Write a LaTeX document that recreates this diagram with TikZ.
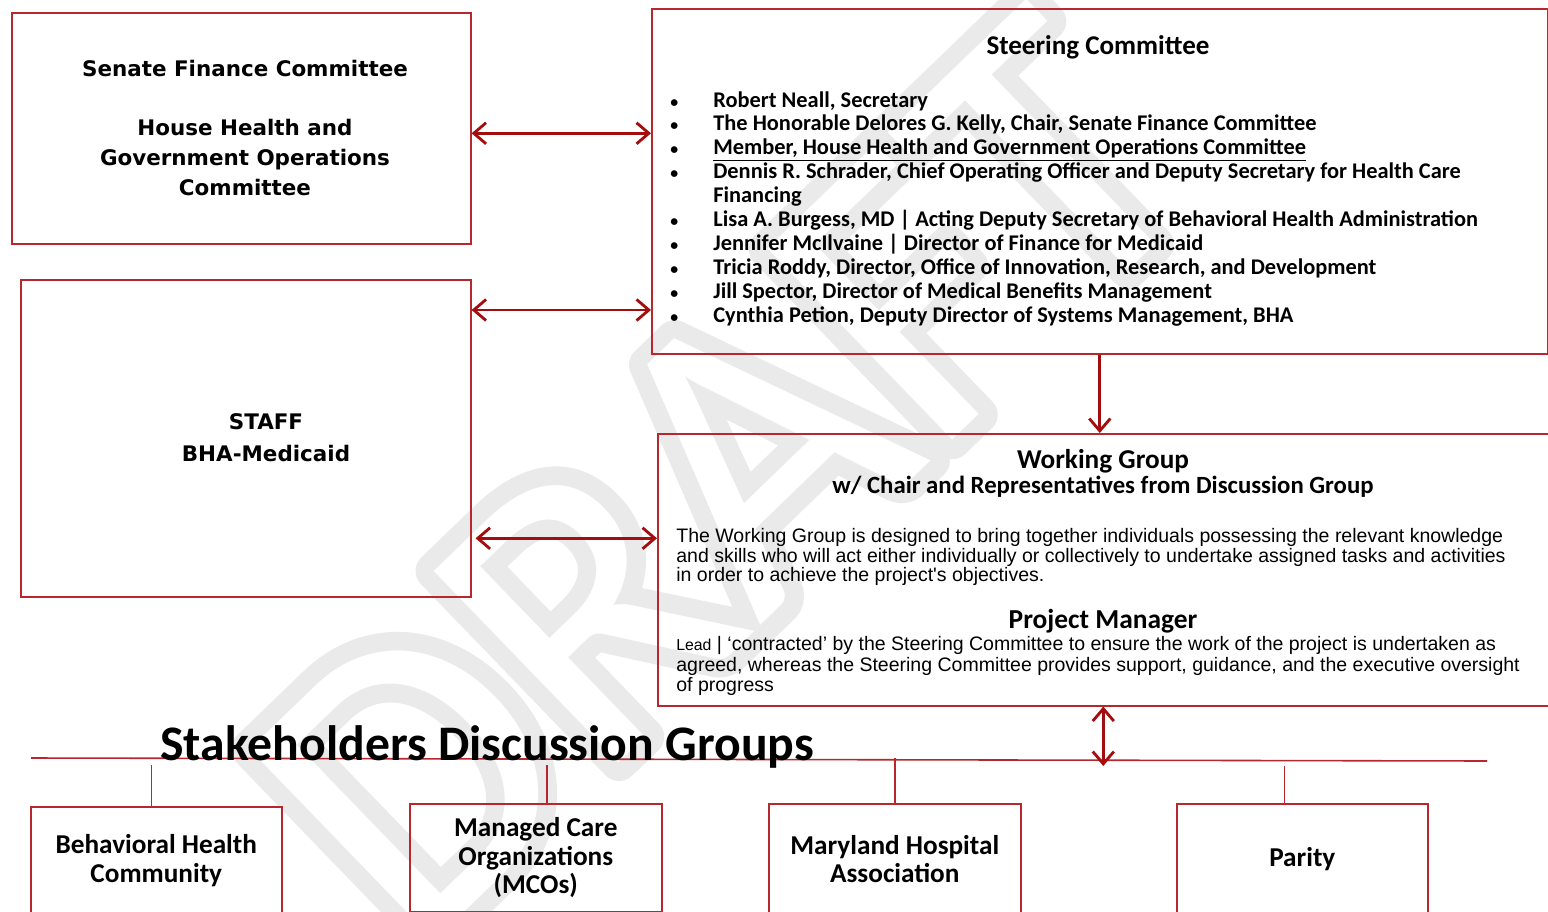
\documentclass[tikz,border=0pt]{standalone}
\usepackage{fontspec}
\setmainfont{Carlito}
\newfontfamily\widefont{DejaVu Sans}
\newfontfamily\arialfont{Liberation Sans}
\newfontfamily\draftfont[FakeBold=9]{Carlito}
\usetikzlibrary{arrows.meta,calc,positioning}
\definecolor{boxred}{HTML}{B7282E}
\definecolor{arrowred}{HTML}{A30D0D}
\definecolor{wmgray}{HTML}{EAEAEA}
\newlength{\pxu}
\setlength{\pxu}{0.02cm}
\newcommand{\blt}{{\fontsize{9}{9}\selectfont\textbullet}}

\begin{document}
\begin{tikzpicture}[x=0.02cm, y=-0.02cm,
  box/.style={draw=boxred, line width=0.9pt, inner sep=0pt, anchor=north west},
  link/.style={draw=boxred, line width=0.9pt},
  biarrow/.style={draw=arrowred, line width=1.6pt, {Straight Barb[length=7pt,width=12pt]}-{Straight Barb[length=7pt,width=12pt]}},
  onearrow/.style={draw=arrowred, line width=1.6pt, -{Straight Barb[length=7pt,width=12pt]}},
  head/.style={align=center, font=\widefont\bfseries\fontsize{12.2}{17}\selectfont},
  sub/.style={align=center, font=\bfseries\fontsize{15.5}{16.2}\selectfont},
  body/.style={anchor=north west, inner sep=0pt, align=left}]
\useasboundingbox (0,0) rectangle (1548,912);

% watermark
\begin{scope}[line join=round]
\node[text=wmgray, rotate=44, font=\draftfont\fontsize{236}{236}\selectfont] (draft) at (722,478) {DRAFT};
\node[text=white, rotate=44, font=\fontsize{236}{236}\selectfont] (draftin) at (722,478) {DRAFT};
\end{scope}

% left column
\node[box, minimum width=459*\pxu, minimum height=231*\pxu] (sfc) at (11,12) {};
\node[head] (sfctext) at (245,128)
  {Senate Finance Committee\\[17pt]House Health and\\Government Operations\\Committee};
\node[box, minimum width=450*\pxu, minimum height=317*\pxu] (staff) at (20,279) {};
\node[head] (stafftext) at (266,438) {STAFF\\[1pt]BHA-Medicaid};

% steering committee
\node[box, minimum width=896*\pxu, minimum height=345*\pxu] (steer) at (651,8) {};
\node[font=\bfseries\fontsize{15.4}{18}\selectfont] (steertitle) at (1098,47) {Steering Committee};
\node[body, font=\bfseries\fontsize{12.75}{13.6}\selectfont] (steerlist) at (670,90) {%
  \begin{tabular}{@{}p{43\pxu}@{}l@{}}
  \blt & Robert Neall, Secretary\\
  \blt & The Honorable Delores G. Kelly, Chair, Senate Finance Committee\\
  \blt & \underline{Member, House Health and Government Operations Committee}\\
  \blt & Dennis R. Schrader, Chief Operating Officer and Deputy Secretary for Health Care\\
       & Financing\\
  \blt & Lisa A. Burgess, MD | Acting Deputy Secretary of Behavioral Health Administration\\
  \blt & Jennifer McIlvaine | Director of Finance for Medicaid\\
  \blt & Tricia Roddy, Director, Office of Innovation, Research, and Development\\
  \blt & Jill Spector, Director of Medical Benefits Management\\
  \blt & Cynthia Petion, Deputy Director of Systems Management, BHA
  \end{tabular}};

% working group
\node[box, minimum width=891*\pxu, minimum height=272*\pxu] (wg) at (657,433) {};
\node[font=\bfseries\fontsize{15.5}{18}\selectfont] (wgtitle) at (1103,461) {Working Group};
\node[font=\bfseries\fontsize{14.1}{16}\selectfont] (wgsub) at (1103,487) {w/ Chair and Representatives from Discussion Group};
\node[body, font=\arialfont\fontsize{11.1}{11.2}\selectfont] (wgtext) at (676,528)
  {The Working Group is designed to bring together individuals possessing the relevant knowledge\\
   and skills who will act either individually or collectively to undertake assigned tasks and activities\\
   in order to achieve the project's objectives.};
\node[font=\bfseries\fontsize{15.6}{18}\selectfont] (pmtitle) at (1103,621) {Project Manager};
\node[body, font=\arialfont\fontsize{11.1}{11.7}\selectfont] (pmtext) at (676,636)
  {{\fontsize{9}{9}\selectfont Lead} | ‘contracted’ by the Steering Committee to ensure the work of the project is undertaken as\\
   agreed, whereas the Steering Committee provides support, guidance, and the executive oversight\\
   of progress};

% stakeholders discussion groups
\coordinate (sdl) at (31,758);
\coordinate (sdr) at (1487,761);
\draw[link] (sdl) -- (sdr);
\node[anchor=base west, inner sep=0pt, font=\bfseries\fontsize{28.3}{32}\selectfont] (sdgtitle) at (160,760) {Stakeholders Discussion Groups};

\node[box, sub, minimum width=251*\pxu, minimum height=108*\pxu] (bhc) at (30,806) {Behavioral Health\\Community};
\node[box, sub, minimum width=252*\pxu, minimum height=108*\pxu] (mco) at (409,803) {Managed Care\\Organizations\\(MCOs)};
\node[box, sub, minimum width=252*\pxu, minimum height=110*\pxu] (mha) at (768,803) {Maryland Hospital\\Association};
\node[box, sub, minimum width=251*\pxu, minimum height=110*\pxu] (parity) at (1176,803) {Parity};

\draw[link, shorten >=7*\pxu] ([xshift=-5*\pxu]bhc.north) -- ([xshift=-5*\pxu]bhc.north |- sdl);
\draw[link, shorten >=7*\pxu] ([xshift=11*\pxu]mco.north) -- ([xshift=11*\pxu]mco.north |- sdl);
\draw[link] (mha.north) -- (mha.north |- sdl);
\draw[link, shorten >=5*\pxu] ([xshift=-18*\pxu]parity.north) -- ([xshift=-18*\pxu]parity.north |- sdr);

% connectors
\draw[biarrow] ([yshift=-5*\pxu]sfc.east) -- ([yshift=-5*\pxu]sfc.east -| steer.west);
\draw[biarrow] ([yshift=-31*\pxu]staff.north east) -- ([yshift=-31*\pxu]staff.north east -| steer.west);
\draw[biarrow] ([xshift=4*\pxu, yshift=-100*\pxu]staff.east) -- ([yshift=-100*\pxu]staff.east -| wg.west);
\draw[onearrow] (steer.south) -- (steer.south |- wg.north);
\draw[biarrow, shorten >=-5*\pxu] (wg.south) -- (wg.south |- sdr);
\end{tikzpicture}
\end{document}
